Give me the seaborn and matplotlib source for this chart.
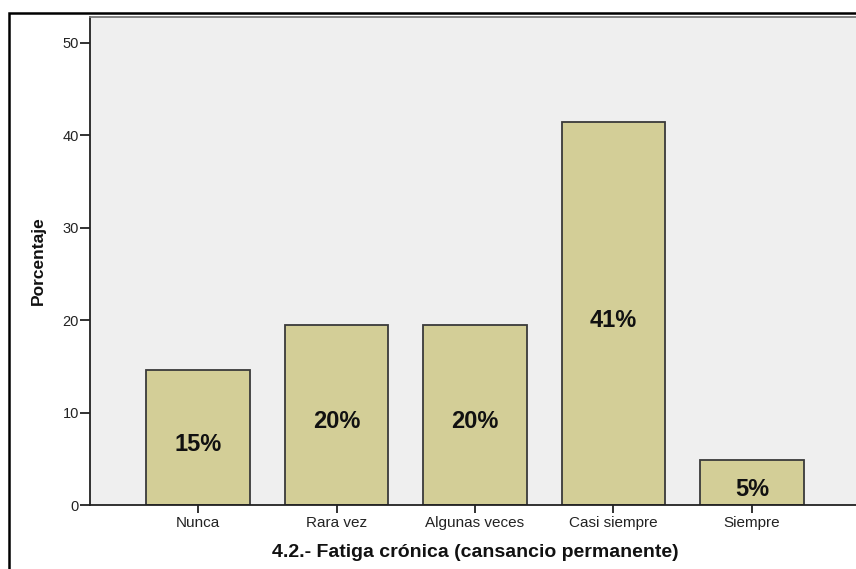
import matplotlib
matplotlib.use("Agg")
import matplotlib.pyplot as plt
import seaborn as sns
import pandas as pd
from matplotlib.patches import Rectangle

categories = ["Nunca", "Rara vez", "Algunas veces", "Casi siempre", "Siempre"]
percentages = [14.63, 19.51, 19.51, 41.46, 4.88]
y_ticks = [0, 10, 20, 30, 40, 50]
x_title = "4.2.- Fatiga crónica (cansancio permanente)"
y_title = "Porcentaje"

df = pd.DataFrame({"categoria": categories, "porcentaje": percentages})

sns.set_theme(style="white")
plt.rcParams["font.family"] = ["Liberation Sans", "DejaVu Sans"]

fig = plt.figure(figsize=(8.56, 5.69), dpi=100)
fig.patch.set_facecolor("white")
ax = fig.add_axes([90 / 856, 1 - 505.2 / 569, (860 - 90) / 856, (505.2 - 17) / 569])
ax.set_facecolor("#efefef")

sns.barplot(data=df, x="categoria", y="porcentaje", order=categories,
            color="#d3ce97", saturation=1, width=0.75,
            edgecolor="#3a3a3a", linewidth=1.3, ax=ax)

for i, v in enumerate(percentages):
    ax.annotate(f"{round(v):d}%", xy=(i, v / 2), xytext=(0, -5),
                textcoords="offset points", ha="center", va="center",
                fontsize=17, fontweight="bold", color="#111111")

ax.set_xlim(-0.78, 4.78)
ax.set_ylim(0, 52.8)
ax.set_yticks(y_ticks)
ax.set_yticklabels([str(t) for t in y_ticks], fontsize=10.5, color="#222222")
ax.tick_params(axis="y", left=True, direction="out", length=7, width=1.3,
               color="#222222", pad=1)
ax.tick_params(axis="x", bottom=True, direction="out", length=6, width=1.3,
               color="#222222", labelsize=11, labelcolor="#222222", pad=2)
ax.set_xlabel(x_title, fontsize=14, fontweight="bold", color="#111111", labelpad=10)
ax.set_ylabel(y_title, fontsize=12.5, fontweight="bold", color="#111111", labelpad=12)

for side in ["left", "bottom"]:
    ax.spines[side].set_color("#222222")
    ax.spines[side].set_linewidth(1.3)
ax.spines["top"].set_color("#777777")
ax.spines["top"].set_linewidth(1.3)
ax.spines["right"].set_visible(False)

# outer frame around the chart
fig.patches.append(Rectangle((9 / 856, -0.05), 1.2, 1 - 13 / 569 + 0.05,
                             transform=fig.transFigure, fill=False,
                             edgecolor="black", linewidth=1.8, clip_on=False))

fig.savefig("out.png", dpi=100, facecolor="white")
